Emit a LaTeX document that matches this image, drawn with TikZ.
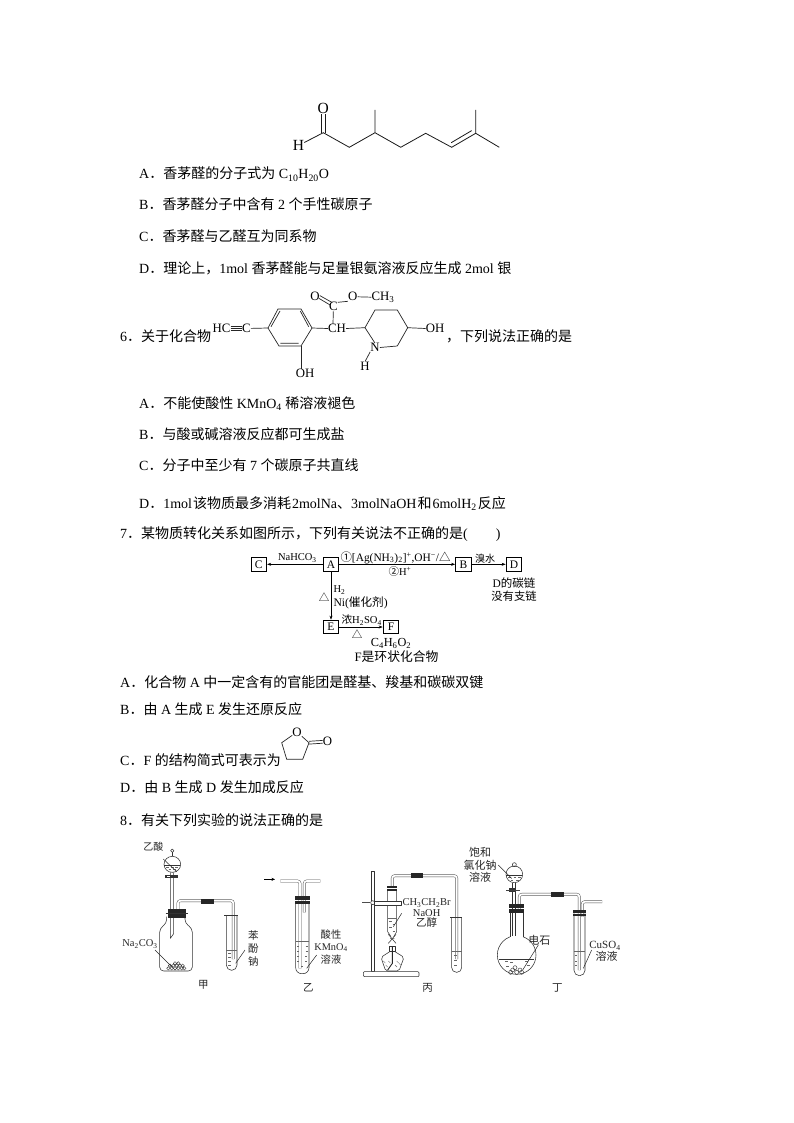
\documentclass[tikz,border=0pt]{standalone}
\usepackage{fontspec}
\setmainfont{Liberation Serif}
\newfontfamily\cjk{Noto Sans CJK SC}
\newcommand{\zh}[1]{{\cjk #1}}
\newcommand{\fsz}[1]{\fontsize{#1}{#1}\selectfont}
\newcommand{\tb}[1]{\draw[tubeo] #1; \draw[tubei] #1;}
\tikzset{
 txt/.style={anchor=base west,inner sep=0pt,font=\fsz{14}},
 atom/.style={inner sep=0pt,font=\fsz{12.8}},
 atomb/.style={inner sep=0pt,font=\fsz{15.5}},
 bond/.style={line width=.7pt,black!85},
 bondb/.style={line width=.8pt,black!90},
 boxn/.style={draw,line width=.6pt,minimum width=15.5pt,minimum height=13.5pt,inner sep=0pt,font=\fsz{11.5}},
 flow/.style={line width=.6pt,-{Stealth[length=4pt,width=3pt]},shorten >=.3pt},
 fl/.style={inner sep=0pt,font=\fsz{10.5}},
 lab/.style={inner sep=0pt,font=\fsz{10.5},black!85},
 glass/.style={line width=.55pt,black!80,line join=round},
 tubeo/.style={line width=2.7pt,black!70,rounded corners=2.5pt},
 tubei/.style={line width=1.8pt,white,rounded corners=2.5pt},
 lead/.style={line width=.5pt,black!85},
 liq/.style={line width=.4pt,black!60},
 stopper/.style={fill=black!85,draw=none}
}
\usetikzlibrary{arrows.meta}
\begin{document}
\begin{tikzpicture}[x=1pt,y=-1pt]
\useasboundingbox (0,0) rectangle (794,1123);
\fill[white] (0,0) rectangle (794,1123);
% --- text lines
\node[txt] (t1) at (139,179) {A\zh{．香茅醛的分子式为} C\textsubscript{10}H\textsubscript{20}O};
\node[txt] (t2) at (139,210) {B\zh{．香茅醛分子中含有} 2 \zh{个手性碳原子}};
\node[txt] (t3) at (139,241) {C\zh{．香茅醛与乙醛互为同系物}};
\node[txt] (t4) at (139,273) {D\zh{．理论上，}1mol \zh{香茅醛能与足量银氨溶液反应生成} 2mol \zh{银}};
\node[txt] (t5) at (120,341) {6\zh{．关于化合物}};
\node[txt] (t6) at (446,341) {\zh{，下列说法正确的是}};
\node[txt] (t7) at (139,408) {A\zh{．不能使酸性} KMnO\textsubscript{4} \zh{稀溶液褪色}};
\node[txt] (t8) at (139,439) {B\zh{．与酸或碱溶液反应都可生成盐}};
\node[txt] (t9) at (139,470) {C\zh{．分子中至少有} 7 \zh{个碳原子共直线}};
\node[txt] (t10) at (139,508) {D\zh{．}1mol\hspace{1pt}\zh{该物质最多消耗}\hspace{1pt}2molNa\zh{、}3molNaOH\hspace{1pt}\zh{和}\hspace{1pt}6molH\textsubscript{2}\hspace{1pt}\zh{反应}};
\node[txt] (t11) at (120,538) {7\zh{．某物质转化关系如图所示，下列有关说法不正确的是}(\hspace{28pt})};
\node[txt] (t12) at (120,687) {A\zh{．化合物} A \zh{中一定含有的官能团是醛基、羧基和碳碳双键}};
\node[txt] (t13) at (120,714) {B\zh{．由} A \zh{生成} E \zh{发生还原反应}};
\node[txt] (t14) at (120,765) {C\zh{．}F \zh{的结构简式可表示为}};
\node[txt] (t15) at (120,792) {D\zh{．由} B \zh{生成} D \zh{发生加成反应}};
\node[txt] (t16) at (120,825) {8\zh{．有关下列实验的说法正确的是}};
% --- citronellal
\node[atomb] (mO) at (323.3,108.5) {O};
\node[atomb] (mH) at (298.5,145.5) {H};
\foreach \n/\x/\y in {c1/323.3/132.7,c2/349.3/147.3,c3/375/132.7,c3m/375/110,c4/400.7/147.3,c5/425.7/133.3,c6/451.7/147.3,c7/475.7/133.3,c7m/475.7/110,c8/499.3/147.3}
  \coordinate (\n) at (\x,\y);
\draw[bondb] (mH) -- (c1) -- (c2) -- (c3) -- (c4) -- (c5) -- (c6) -- (c7) -- (c8) (c3) -- (c3m) (c7) -- (c7m);
\draw[bondb] ([xshift=-2.1pt]c1) -- ([xshift=-2.1pt]mO.south) ([xshift=2.1pt]c1) -- ([xshift=2.1pt]mO.south);
\draw[bondb] ([xshift=-.5pt,yshift=4.6pt]c6) -- ([xshift=-4pt,yshift=2.7pt]c7);
% --- compound 6
\node[atom] (hc) at (221.5,328.5) {HC};
\node[atom] (cc) at (246.3,328.5) {C};
\draw[line width=.55pt,black!85] ([yshift=-2.2pt]hc.east) -- ([yshift=-2.2pt]cc.west) (hc.east) -- (cc.west) ([yshift=2.2pt]hc.east) -- ([yshift=2.2pt]cc.west);
\foreach \n/\x/\y in {r1/268/328,r2/278/309,r3/301/309,r4/312/328,r5/301/346,r6/279/346,
 p1/365/327.7,p2/375/310,p3/397.3/310,p4/407.7/327.7,p5/397.3/346}
  \coordinate (\n) at (\x,\y);
\draw[bond] (cc) -- (r1);
\draw[bond] (r1) -- (r2) -- (r3) -- (r4) -- (r5) -- (r6) -- cycle;
\draw[bond] (271,326.7) -- (280,311) (300.3,311) -- (308.7,326.7) (280.3,343.3) -- (298.7,343.3);
\node[atom] (oh1) at (305,373.5) {OH};
\draw[bond] (r5) -- (oh1.north -| r5);
\node[atom] (ch) at (337,328.5) {CH};
\node[atom] (c0) at (333.3,306.8) {C};
\node[atom] (o1) at (315,296.8) {O};
\node[atom] (o2) at (352.7,296.8) {O};
\node[atom] (ch3) at (383,297.2) {CH\textsubscript{3}};
\draw[bond] (r4) -- (ch.west) ([xshift=-4pt]ch.north) -- (c0.south);
\draw[bond] ([yshift=1.2pt]o1.east) -- ([xshift=-1pt,yshift=-.3pt]c0.north) ([xshift=-1pt,yshift=-1.5pt]o1.east) -- ([xshift=-3pt,yshift=-2.8pt]c0.north);
\draw[bond] (c0.north east) -- (o2.south west) (o2.east) -- (ch3.west);
\draw[bond] (ch.east) -- (p1) -- (p2) -- (p3) -- (p4) -- (p5);
\node[atom] (nn) at (375,347.5) {N};
\node[atom] (nh) at (365,366) {H};
\node[atom] (oh2) at (435,328.5) {OH};
\draw[bond] (p5) -- (nn.east) (p1) -- (nn.north) (nn.south west) -- (nh.north) (p4) -- (oh2.west);
% --- flow diagram
\node[boxn] (C) at (258.8,564.3) {C};
\node[boxn] (A) at (331,564.3) {A};
\node[boxn] (B) at (463.5,564.3) {B};
\node[boxn] (D) at (514,564.3) {D};
\node[boxn] (E) at (331,627) {E};
\node[boxn] (F) at (391,627) {F};
\draw[flow] (A) -- (C);
\draw[flow] (A) -- (B);
\draw[flow] (B) -- (D);
\draw[flow] (A) -- (E);
\draw[flow] (E) -- (F);
\node[fl] (l1) at (297.3,558) {NaHCO\textsubscript{3}};
\node[fl,font=\fsz{11.4}] (l2) at (395.5,557.7) {\zh{①}[Ag(NH\textsubscript{3})\textsubscript{2}]\textsuperscript{+},OH\textsuperscript{−}/\zh{△}};
\node[fl] (l3) at (400,571.7) {\zh{②}H\textsuperscript{+}};
\node[fl,font=\fsz{10}] (l4) at (485,558.5) {\zh{溴水}};
\node[fl,font=\fsz{11.5}] (l5) at (514,583) {D\zh{的碳链}};
\node[fl,font=\fsz{11.3}] (l6) at (514,596) {\zh{没有支链}};
\node[fl] (l7) at (324,597) {\zh{△}};
\node[fl,anchor=west] (l8) at (333.3,590) {H\textsubscript{2}};
\node[fl,anchor=west,font=\fsz{11.6}] (l9) at (333.3,602.5) {Ni(\zh{催化剂})};
\node[fl,font=\fsz{10.6}] (l10) at (361.7,620) {\zh{浓}H\textsubscript{2}SO\textsubscript{4}};
\node[fl] (l11) at (357,634) {\zh{△}};
\node[fl,font=\fsz{12.3}] (l12) at (391,643.5) {C\textsubscript{4}H\textsubscript{6}O\textsubscript{2}};
\node[fl,font=\fsz{12.8}] (l13) at (396.5,656.7) {F\zh{是环状化合物}};
% --- lactone
\node[atom] (lo) at (297,732) {O};
\node[atom] (lo2) at (327.5,741.8) {O};
\foreach \n/\x/\y in {a1/309/742.7,a2/302.7/759.3,a3/286.7/759.3,a4/281.7/742.7} \coordinate (\n) at (\x,\y);
\draw[bond] (lo) -- (a1) -- (a2) -- (a3) -- (a4) -- (lo);
\draw[bond] ([yshift=-1.4pt]a1) -- ([yshift=-1.4pt]lo2.west) ([yshift=1.4pt]a1) -- ([yshift=1.4pt]lo2.west);
% ============ 甲
\begin{scope}[shift={(115,835)},scale=1/3]
 \draw[glass] (166,112) -- (166,310) -- (176,296) -- (176,112);
 \draw[glass,fill=white] (172,88) ellipse[x radius=25,y radius=24];
 \draw[glass] (172,47) circle[radius=5];
 \draw[glass] (172,52) -- (172,64);
 \draw[glass] (148,90) -- (196,90);
 \foreach \x/\y in {158/97,172/97,185/97,165/104,178/104} \draw[liq] (\x-4,\y)--(\x+4,\y);
 \fill[black!80] (150,120) rectangle (188,128);
 \fill[white] (155,122) rectangle (165,126);
 % jar
 \draw[glass,rounded corners=4pt] (155,245) -- (155,265) -- (134,280) -- (134,408) -- (232,408) -- (232,280) -- (210,265) -- (210,245);
 \tb{(189,245) -- (189,197) -- (355,197) -- (355,372)}
 \foreach \x/\y in {160/400,170/400,180/400,190/400,200/400,208/400,165/392,175/392,185/392,195/392,203/392,180/385,190/385}
  \draw[black!80,line width=.45pt] (\x,\y) circle[radius=5];
 % stopper
 \fill[stopper] (160,222) rectangle (212,234);
 \fill[stopper] (160,237) rectangle (212,248);
 \draw[glass] (152,236) -- (218,236);
 \fill[stopper] (258,191) rectangle (296,206);
 % test tube
 \draw[glass,rounded corners=5.3pt] (334,240) -- (334,406) -- (366,406) -- (366,240);
 \draw[glass] (328,240) -- (370,240);
 \draw[liq] (334,345) -- (366,345);
 \foreach \y in {355,367,379,391} \draw[liq] (340,\y)--(348,\y);
 \draw[lead] (145,72) -- (185,110);
 \draw[lead] (120,345) -- (170,395);
 \draw[lead] (390,345) -- (362,385);
 \node[lab,font=\fsz{10}] (n1) at (115,35) {\zh{乙酸}};
 \node[lab] (n2) at (75,327) {Na\textsubscript{2}CO\textsubscript{3}};
 \node[lab] (n3) at (415,302) {\zh{苯}};
 \node[lab] (n4) at (415,341) {\zh{酚}};
 \node[lab] (n5) at (415,380) {\zh{钠}};
 \node[lab] (n6) at (265,450) {\zh{甲}};
\end{scope}
% ============ 乙 丙
\begin{scope}[shift={(255,835)},scale=1/3]
 \draw[line width=.5pt,-{Stealth[length=3.5pt,width=3pt]}] (27,133) -- (60,133);
 \draw[glass,rounded corners=6pt] (122,205) -- (122,416) -- (162,416) -- (162,205);
 \tb{(76,138) -- (135,138) -- (135,400)}
 \tb{(196,138) -- (148,138) -- (148,232)}
 \fill[stopper] (120,183) rectangle (165,194);
 \fill[stopper] (120,197) rectangle (165,208);
 \draw[liq] (122,320) -- (162,320);
 \foreach \x/\y in {126/335,152/335,126/350,152/350,126/365,150/365,126/380,150/380,138/395} \draw[liq] (\x,\y)--(\x+7,\y);
 \draw[lead] (185,360) -- (155,400);
 \node[lab,font=\fsz{10.3}] (n7) at (228,298) {\zh{酸性}};
 \node[lab,font=\fsz{10.3}] (n8) at (228,337) {KMnO\textsubscript{4}};
 \node[lab,font=\fsz{10.3}] (n9) at (228,375) {\zh{溶液}};
 \node[lab] (n10) at (160,457) {\zh{乙}};
 % stand
 \draw[glass,fill=white] (350,110) rectangle (358,410);
 \draw[glass,fill=white,rounded corners=1pt] (325,410) rectangle (492,425);
 \draw[line width=.7pt,black!70] (322,203) -- (345,203);
 \draw[glass,fill=white] (353,203) circle[radius=6];
 % tube
 \draw[glass] (398,165) -- (398,290) -- (408,305) (425,165) -- (425,290) -- (416,305);
 \draw[glass,fill=white] (359,198) rectangle (440,210);
 \tb{(412,158) -- (412,122) -- (605,122) -- (605,372)}
 \fill[stopper] (397,153) rectangle (426,159);
 \fill[stopper] (397,161) rectangle (426,167);
 \fill[stopper] (468,115) rectangle (505,129);
 \draw[liq] (398,250) -- (425,250);
 \foreach \x/\y in {403/260,413/268,403/278,413/288} \draw[liq] (\x,\y)--(\x+8,\y);
 \draw[lead] (440,235) -- (415,275);
 % flame and lamp
 \draw[line width=.6pt,black!75] (400,298) -- (423,325) (423,298) -- (400,325) (405,310) -- (418,310);
 \draw[glass,fill=white] (404,335) rectangle (420,350);
 \draw[glass,rounded corners=2pt] (404,350) -- (378,367) -- (392,408) -- (432,408) -- (447,367) -- (420,350);
 \foreach \x/\y in {385/378,400/378,425/378,392/390,420/390,432/385} \draw[liq] (\x,\y)--(\x+6,\y+6);
 \draw[line width=.9pt,black!85] (412,335) -- (412,385) -- (398,405);
 % right test tube
 \draw[glass,rounded corners=4.8pt] (590,248) -- (590,412) -- (620,412) -- (620,248);
 \draw[glass] (585,248) -- (622,248);
 \draw[liq] (590,350) -- (620,350);
 \foreach \y in {362,375,390} \draw[liq] (597,\y)--(606,\y);
 \node[lab,font=\fsz{10.5}] (n11) at (515,204) {CH\textsubscript{3}CH\textsubscript{2}Br};
 \node[lab,font=\fsz{10.5}] (n12) at (515,233) {NaOH};
 \node[lab] (n13) at (515,263) {\zh{乙醇}};
 \node[lab] (n14) at (518,460) {\zh{丙}};
\end{scope}
% ============ 丁
\begin{scope}[shift={(470,835)},scale=1/3]
 \draw[glass] (127,143) -- (127,302) (137,143) -- (137,302);
 \draw[glass,fill=white] (133,118) circle[radius=25];
 \draw[glass] (133,89) circle[radius=6];
 \draw[glass] (109,120) -- (157,120);
 \foreach \x/\y in {118/128,135/128,148/128,126/136,142/136} \draw[liq] (\x-4,\y)--(\x+4,\y);
 \fill[black!80] (118,160) rectangle (138,172);
 \draw[line width=.7pt,black!75] (108,165) -- (150,165);
 % flask
 \draw[glass] (140,360) circle[radius=58];
 \fill[white] (121,290) rectangle (160,315);
 \draw[glass] (127,290) -- (127,302) (137,290) -- (137,302);
 \draw[glass] (120,230) -- (120,307) (161,230) -- (161,307);
 \tb{(148,230) -- (148,178) -- (328,178) -- (328,405)}
 \tb{(337,245) -- (337,200) -- (396,200)}
 \fill[stopper] (118,208) rectangle (163,219);
 \fill[stopper] (118,222) rectangle (163,233);
 \fill[stopper] (243,172) rectangle (282,187);
 \draw[glass] (87,372) -- (193,372);
 \foreach \x/\y in {105/380,120/382,165/380,108/393,170/392} \draw[liq] (\x,\y)--(\x+10,\y);
 \foreach \x/\y in {128/405,140/412,150/405,135/398,155/412,122/412} \draw[black!80,line width=.45pt] (\x,\y) circle[radius=6];
 \draw[glass,rounded corners=5.3pt] (312,235) -- (312,422) -- (345,422) -- (345,235);
 \fill[stopper] (310,226) rectangle (347,235);
 \fill[stopper] (310,237) rectangle (347,244);
 \draw[liq] (312,350) -- (345,350);
 \foreach \y in {362,378,392} \draw[liq] (316,\y)--(322,\y);
 \draw[lead] (85,90) -- (125,130);
 \draw[lead] (205,330) -- (158,405);
 \draw[lead] (365,345) -- (340,400);
 \node[lab,font=\fsz{11}] (n15) at (30,52) {\zh{饱和}};
 \node[lab,font=\fsz{11}] (n16) at (30,90) {\zh{氯化钠}};
 \node[lab,font=\fsz{11}] (n17) at (30,128) {\zh{溶液}};
 \node[lab,font=\fsz{11}] (n18) at (208,315) {\zh{电石}};
 \node[lab,font=\fsz{11}] (n19) at (405,333) {CuSO\textsubscript{4}};
 \node[lab,font=\fsz{11}] (n20) at (410,365) {\zh{溶液}};
 \node[lab] (n21) at (262,460) {\zh{丁}};
\end{scope}
\end{tikzpicture}
\end{document}
